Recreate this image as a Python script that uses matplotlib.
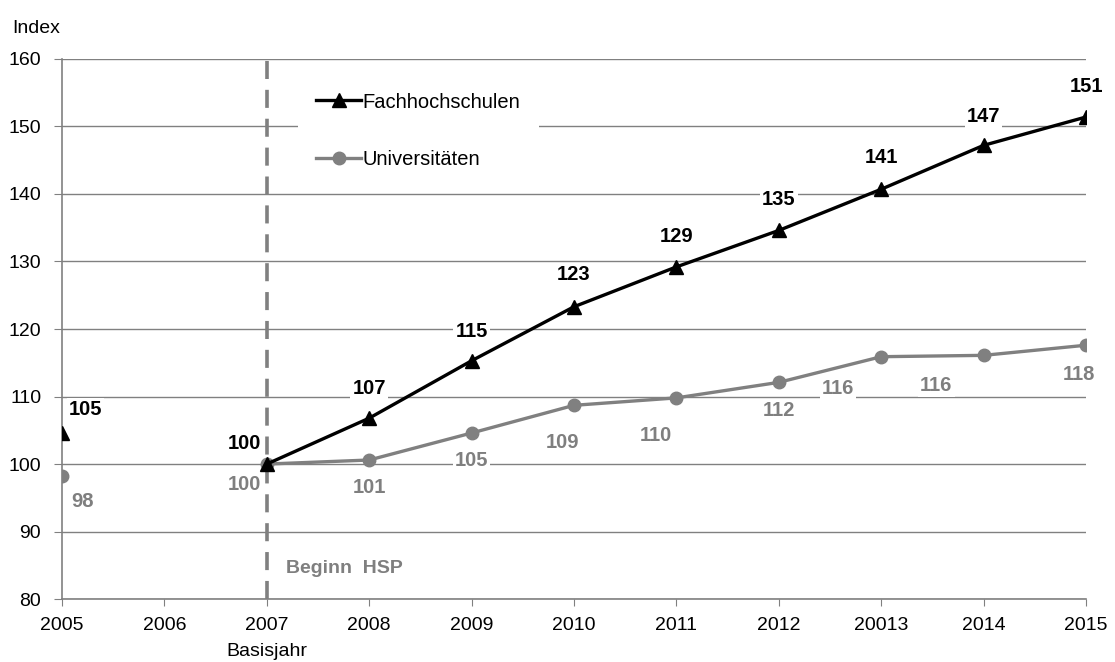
import matplotlib.pyplot as plt

plt.rcParams['font.family'] = ['Liberation Sans', 'DejaVu Sans']

years = ['2005', '2006', '2007', '2008', '2009', '2010', '2011', '2012', '20013', '2014', '2015']

# Index 2007 = 100; 2005 is shown as a single point, 2006 is missing
fh_2005 = 104.6
uni_2005 = 98.3
fh_values = [100, 106.8, 115.3, 123.3, 129.2, 134.6, 140.7, 147.2, 151.4]
uni_values = [100, 100.6, 104.6, 108.7, 109.8, 112.1, 115.9, 116.1, 117.6]

GRAY = '#808080'
LABEL_GRAY = '#7f7f7f'

fig = plt.figure(figsize=(11.15, 6.62), dpi=100)
ax = fig.add_axes([0.0556, 0.095, 0.9184, 0.816])

x_line = list(range(2, 11))

ax.plot(x_line, fh_values, color='black', lw=2.4, marker='^', ms=10,
        label='Fachhochschulen', zorder=4)
ax.plot(x_line, uni_values, color=GRAY, lw=2.4, marker='o', ms=9,
        label='Universitäten', zorder=3)
ax.plot([0], [fh_2005], color='black', marker='^', ms=10, ls='none', zorder=4)
ax.plot([0], [uni_2005], color=GRAY, marker='o', ms=9, ls='none', zorder=3)

# baseline year marker
ax.axvline(2, color=GRAY, lw=2.6, ls=(0, (5, 3)), zorder=2)
ax.text(2.19, 84.6, 'Beginn  HSP', color=LABEL_GRAY, fontsize=14,
        fontweight='bold', va='center', ha='left')

box = dict(facecolor='white', edgecolor='none', pad=1.5)

def label(x, y, text, color, dx, dy):
    ax.annotate(text, (x, y), xytext=(dx, dy), textcoords='offset points',
                ha='center', va='center', color=color, fontsize=14.5,
                fontweight='bold', bbox=box, zorder=5)

label(0, fh_2005, f'{fh_2005:.0f}', 'black', 17, 17)
label(0, uni_2005, f'{uni_2005:.0f}', LABEL_GRAY, 15, -19)

# Fachhochschulen labels above the markers
fh_offsets = [(-16, 15), (0, 21), (0, 21), (0, 23), (0, 22), (0, 22), (0, 23), (0, 21), (0, 22)]
for i, (xv, v) in enumerate(zip(x_line, fh_values)):
    dx, dy = fh_offsets[i]
    label(xv, v, f'{v:.0f}', 'black', dx, dy)

# Universitäten labels below the markers
uni_offsets = [(-16, -15), (0, -20), (0, -20), (-8, -27), (-15, -27), (0, -20), (-31, -23), (-34, -22), (-5, -21)]
for i, (xv, v) in enumerate(zip(x_line, uni_values)):
    dx, dy = uni_offsets[i]
    label(xv, v, f'{v:.0f}', LABEL_GRAY, dx, dy)

ax.set_xlim(0, 10)
ax.set_ylim(80, 160)
ax.set_xticks(range(len(years)))
ax.set_xticklabels(years, fontsize=14)
ax.set_yticks(range(80, 161, 10))
ax.tick_params(axis='y', labelsize=14, length=6, color=GRAY, pad=9)
ax.tick_params(axis='x', length=5, color=GRAY, pad=8)
ax.grid(axis='y', color=GRAY, lw=1.0)
ax.set_axisbelow(True)
for s in ['top', 'right']:
    ax.spines[s].set_visible(False)
for s in ['left', 'bottom']:
    ax.spines[s].set_color(GRAY)
    ax.spines[s].set_linewidth(1.2)

ax.text(-0.0488, 1.04, 'Index', transform=ax.transAxes, fontsize=14,
        ha='left', va='bottom')
ax.text(2, 72.2, 'Basisjahr', fontsize=14, ha='center', va='center')

leg = ax.legend(loc='upper left', bbox_to_anchor=(0.221, 0.99), fontsize=14.5,
                frameon=True, facecolor='white', edgecolor='none', framealpha=1,
                handlelength=2.2, handletextpad=0.1, labelspacing=1.9,
                borderpad=0.9, fancybox=False)
leg.set_zorder(6)

fig.savefig('out.png', dpi=100)
